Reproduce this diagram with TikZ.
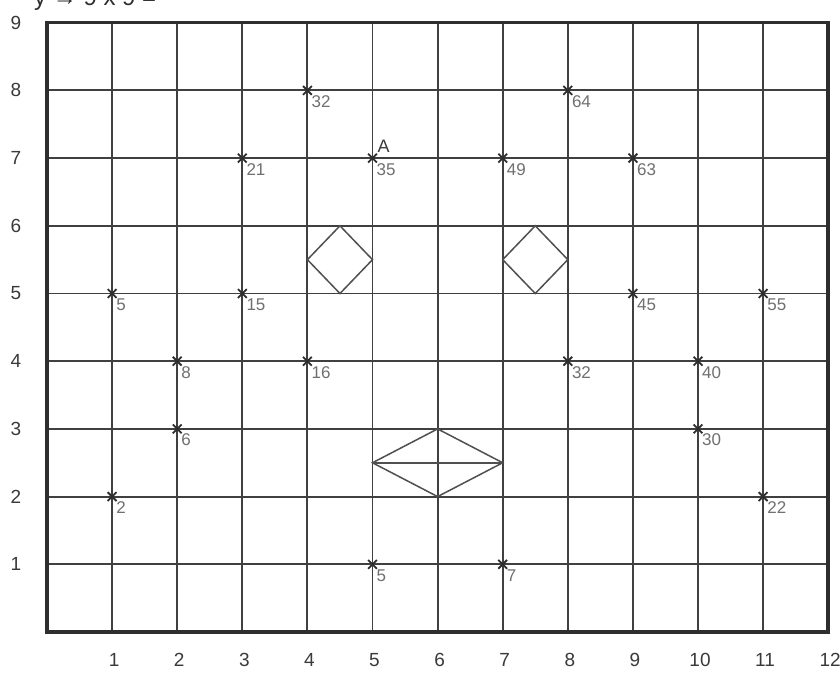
\documentclass[tikz,border=0pt]{standalone}
\usepackage{fontspec}
\setmainfont{Liberation Sans}
\usetikzlibrary{shapes.misc,calc}
\definecolor{gridcol}{HTML}{404040}
\definecolor{framecol}{HTML}{2E2E2E}
\definecolor{lblcol}{HTML}{707070}
\definecolor{axiscol}{HTML}{3A3A3A}
\definecolor{shapecol}{HTML}{505050}
\begin{document}
\begin{tikzpicture}[x=1pt,y=-1pt,
  gridline/.style={draw=gridcol,line width=1.9pt},
  framebox/.style={draw=framecol,line width=3.5pt},
  axislbl/.style={text=axiscol,font=\fontsize{19}{19}\selectfont,inner sep=0pt},
  ptmark/.style={draw=framecol,cross out,minimum size=7pt,inner sep=0pt,line width=1.8pt},
  ptlbl/.style={text=lblcol,font=\fontsize{17}{17}\selectfont,inner sep=0pt,anchor=north west},
  figshape/.style={draw=shapecol,line width=1.5pt,line join=miter}]
\useasboundingbox (0,0) rectangle (840,675);
\fill[white] (0,0) rectangle (840,675);
% grid coordinates
\foreach \i in {0,...,12}{
  \foreach \j in {0,...,9}{
    \coordinate (g-\i-\j) at ({47+65.1*\i},{632-67.7*\j});
  }
}
% top caption fragment (cut off by the page edge, as in the reference)
\begin{scope}
  \clip (0,0) rectangle (840,10);
  \node[anchor=base west,inner sep=0pt,text=framecol,font=\fontsize{24}{24}\selectfont] (cap) at (34,5) {y → 9 x 9 =};
\end{scope}
% grid lines
\foreach \i in {1,...,11}{ \draw[gridline] (g-\i-0) -- (g-\i-9); }
\foreach \j in {1,...,8}{ \draw[gridline] (g-0-\j) -- (g-12-\j); }
\draw[framebox] (g-0-0) rectangle (g-12-9);
% axis labels
\foreach \j in {1,...,9}{ \node[axislbl] (yl-\j) at ($(g-0-\j)+(-31,0)$) {\j}; }
\foreach \i in {1,...,12}{ \node[axislbl] (xl-\i) at ($(g-\i-0)+(2,28)$) {\i}; }
% shapes
\draw[figshape] (g-4-5) ++(0,-33.85) -- ++(32.55,-33.85) -- ++(32.55,33.85) -- ++(-32.55,33.85) -- cycle;
\draw[figshape] (g-7-5) ++(0,-33.85) -- ++(32.55,-33.85) -- ++(32.55,33.85) -- ++(-32.55,33.85) -- cycle;
\coordinate (rl) at ($(g-5-2)!0.5!(g-5-3)$);
\coordinate (rr) at ($(g-7-2)!0.5!(g-7-3)$);
\draw[figshape] (rl) -- (g-6-3) -- (rr) -- (g-6-2) -- cycle;
\draw[figshape] (rl) -- (rr);
% marked points
\foreach \i/\j/\v in {1/2/2,1/5/5,2/3/6,2/4/8,3/5/15,3/7/21,4/4/16,4/8/32,5/1/5,5/7/35,7/1/7,7/7/49,8/4/32,8/8/64,9/5/45,9/7/63,10/3/30,10/4/40,11/2/22,11/5/55}{
  \node[ptmark] (m-\i-\j) at (g-\i-\j) {};
  \node[ptlbl] (l-\i-\j) at ($(m-\i-\j.center)+(4,5)$) {\v};
}
\node[anchor=south west,inner sep=0pt,text=axiscol,font=\fontsize{18}{18}\selectfont] (A) at ($(m-5-7.center)+(5,-5)$) {A};
\end{tikzpicture}
\end{document}
